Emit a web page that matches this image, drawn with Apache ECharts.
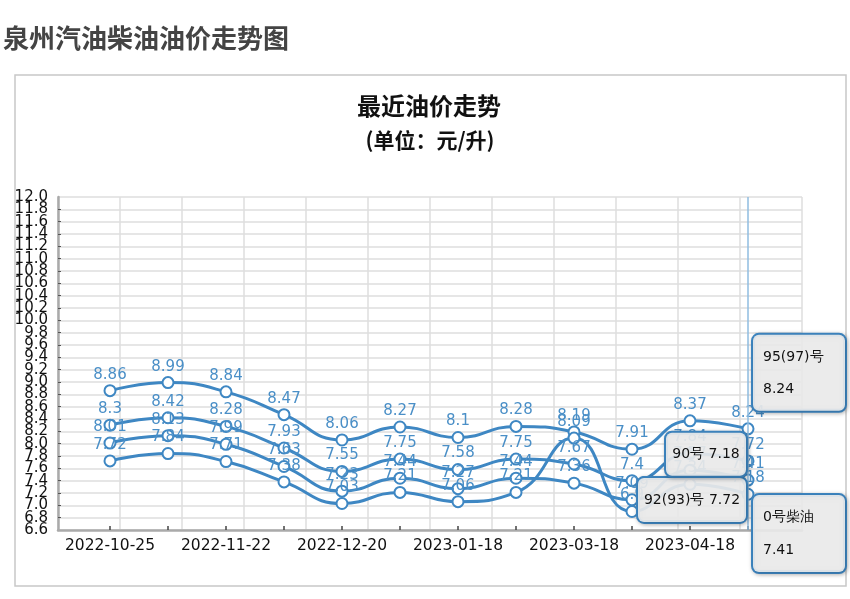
<!DOCTYPE html>
<html>
<head>
<meta charset="utf-8">
<script src="https://cdn.jsdelivr.net/npm/echarts@6/dist/echarts.min.js"></script>
<style>
html,body{margin:0;padding:0;background:#fff;}
#chart{width:850px;height:599px;}
</style>
</head>
<body>
<div id="chart"></div>
<script>
// ---- data ----
const categories = ['2022-10-25','2022-11-08','2022-11-22','2022-12-06','2022-12-20','2023-01-04','2023-01-18','2023-02-18','2023-03-18','2023-04-04','2023-04-18','2023-05-06'];
const seriesNames = ['95(97)号','92(93)号','0号柴油','90号'];
const price95 = [8.86, 8.99, 8.84, 8.47, 8.06, 8.27, 8.10, 8.28, 8.19, 7.91, 8.37, 8.24];
const price92 = [8.30, 8.42, 8.28, 7.93, 7.55, 7.75, 7.58, 7.75, 7.67, 7.40, 7.84, 7.72];
const priceDiesel0 = [8.01, 8.13, 7.99, 7.63, 7.23, 7.44, 7.27, 7.44, 7.36, 7.09, 7.57, 7.41];
const price90 = [7.72, 7.84, 7.71, 7.38, 7.03, 7.21, 7.06, 7.21, 8.09, 6.90, 7.34, 7.18];
const yMin = 6.6, yMax = 12.0, yStep = 0.2;
const mainTitle = '泉州汽油柴油油价走势图';
const chartTitle = '最近油价走势';
const chartSubtitle = '(单位：元/升)';

const BLUE = '#3e87c3';
const LABEL_BLUE = '#4a8fc7';
const last = categories.length - 1;

const boxBase = {
  show: true,
  position: 'inside',
  color: '#111',
  fontSize: 14,
  fontFamily: 'DejaVu Sans',
  backgroundColor: 'rgba(238,238,238,0.9)',
  borderColor: BLUE,
  borderWidth: 2,
  borderRadius: 6,
  shadowColor: 'rgba(0,0,0,0.25)',
  shadowBlur: 4,
  shadowOffsetX: 1,
  shadowOffsetY: 1
};
const boxStyles = [
  Object.assign({}, boxBase, {align:'left', offset:[5,-56], lineHeight:32, width:72, padding:[7,10,5,10],
    formatter: p => seriesNames[0] + '\n' + price95[last]}),
  Object.assign({}, boxBase, {align:'center', offset:[-56,39], lineHeight:44, width:94, padding:[0,7],
    formatter: p => seriesNames[1] + ' ' + price92[last]}),
  Object.assign({}, boxBase, {align:'left', offset:[5,53.5], lineHeight:33, width:72, padding:[7,10,4,10],
    formatter: p => seriesNames[2] + '\n' + priceDiesel0[last]}),
  Object.assign({}, boxBase, {align:'center', offset:[-42,-40], lineHeight:43, width:66, padding:[0,7],
    formatter: p => seriesNames[3] + ' ' + price90[last]})
];

const allData = [price95, price92, priceDiesel0, price90];

const series = allData.map((d, i) => {
  const s = {
    name: seriesNames[i],
    type: 'line',
    xAxisIndex: 1,
    yAxisIndex: 1,
    data: d,
    smooth: true,
    symbol: 'emptyCircle',
    symbolSize: 11,
    lineStyle: {color: BLUE, width: 3},
    itemStyle: {color: BLUE, borderColor: BLUE, borderWidth: 2},
    label: {show: true, position: 'top', distance: 2, color: LABEL_BLUE, fontSize: 15, fontFamily: 'DejaVu Sans'},
    emphasis: {disabled: true},
    markPoint: {
      z: 10,
      symbol: 'circle',
      symbolSize: 1,
      itemStyle: {color: 'rgba(0,0,0,0)'},
      silent: true,
      data: [{coord: [categories[last], d[last]], label: boxStyles[i]}]
    }
  };
  if (i === 0) {
    s.markLine = {
      silent: true,
      symbol: 'none',
      label: {show: false},
      lineStyle: {color: '#8fbde0', width: 1.5, type: 'solid'},
      data: [{xAxis: categories[last]}]
    };
  }
  return s;
});

const yLabelStyle = {show: true, color: '#111', fontSize: 15, fontFamily: 'DejaVu Sans', margin: 10,
  formatter: v => Number(v).toFixed(1)};

const chart = echarts.init(document.getElementById('chart'), null, {renderer: 'canvas'});
chart.setOption({
  animation: false,
  backgroundColor: '#fff',
  graphic: [
    {type: 'rect', z: -10, shape: {x: 15, y: 75, width: 831, height: 511},
      style: {fill: '#fff', stroke: '#c8c8c8', lineWidth: 1.5}},
    {type: 'text', x: 3, y: 38, style: {text: mainTitle, font: 'bold 26px "Noto Sans CJK SC"', fill: '#444',
      textAlign: 'left', textVerticalAlign: 'middle', align: 'left', verticalAlign: 'middle'}},
    {type: 'text', x: 429, y: 106, style: {text: chartTitle, font: 'bold 24px "Noto Sans CJK SC"', fill: '#111',
      textAlign: 'center', textVerticalAlign: 'middle', align: 'center', verticalAlign: 'middle'}},
    {type: 'text', x: 430, y: 140, style: {text: chartSubtitle, font: 'bold 21px "Noto Sans CJK SC"', fill: '#111',
      textAlign: 'center', textVerticalAlign: 'middle', align: 'center', verticalAlign: 'middle'}}
  ],
  grid: [
    {left: 58, right: 48, top: 197, bottom: 69},
    {left: 81, right: 73, top: 197, bottom: 69}
  ],
  xAxis: [
    {
      gridIndex: 0, type: 'value', min: 0, max: 12, interval: 1,
      axisLine: {show: true, lineStyle: {color: '#aaa', width: 2.5}},
      axisTick: {show: false},
      axisLabel: {show: false},
      splitLine: {show: true, lineStyle: {color: '#dedede', width: 1.5}}
    },
    {
      gridIndex: 1, type: 'category', data: categories, boundaryGap: true,
      axisLine: {show: false},
      axisTick: {show: true, alignWithLabel: true, interval: 0, inside: true, length: 4, lineStyle: {color: '#444', width: 1.5}},
      axisLabel: {show: true, interval: 1, color: '#111', fontSize: 15.5, fontFamily: 'DejaVu Sans', margin: 8},
      splitLine: {show: false}
    }
  ],
  yAxis: [
    {
      gridIndex: 0, type: 'value', min: yMin, max: yMax, interval: yStep,
      axisLine: {show: true, lineStyle: {color: '#aaa', width: 2.5}},
      axisTick: {show: true, inside: true, length: 3, lineStyle: {color: '#555'}},
      axisLabel: Object.assign({}, yLabelStyle, {showMinLabel: false, showMaxLabel: false}),
      splitLine: {show: true, lineStyle: {color: '#dedede', width: 1.5}}
    },
    {
      gridIndex: 1, type: 'value', min: yMin, max: yMax, interval: yStep,
      show: false, splitLine: {show: false}
    },
    {
      // carries only the end labels (min / max) so they are not dropped by overlap handling
      gridIndex: 0, type: 'value', position: 'left', min: yMin, max: yMax, interval: yMax - yMin,
      axisLine: {show: false}, axisTick: {show: false}, splitLine: {show: false},
      axisLabel: Object.assign({}, yLabelStyle, {showMinLabel: true, showMaxLabel: true})
    }
  ],
  series: series
});
</script>
</body>
</html>
